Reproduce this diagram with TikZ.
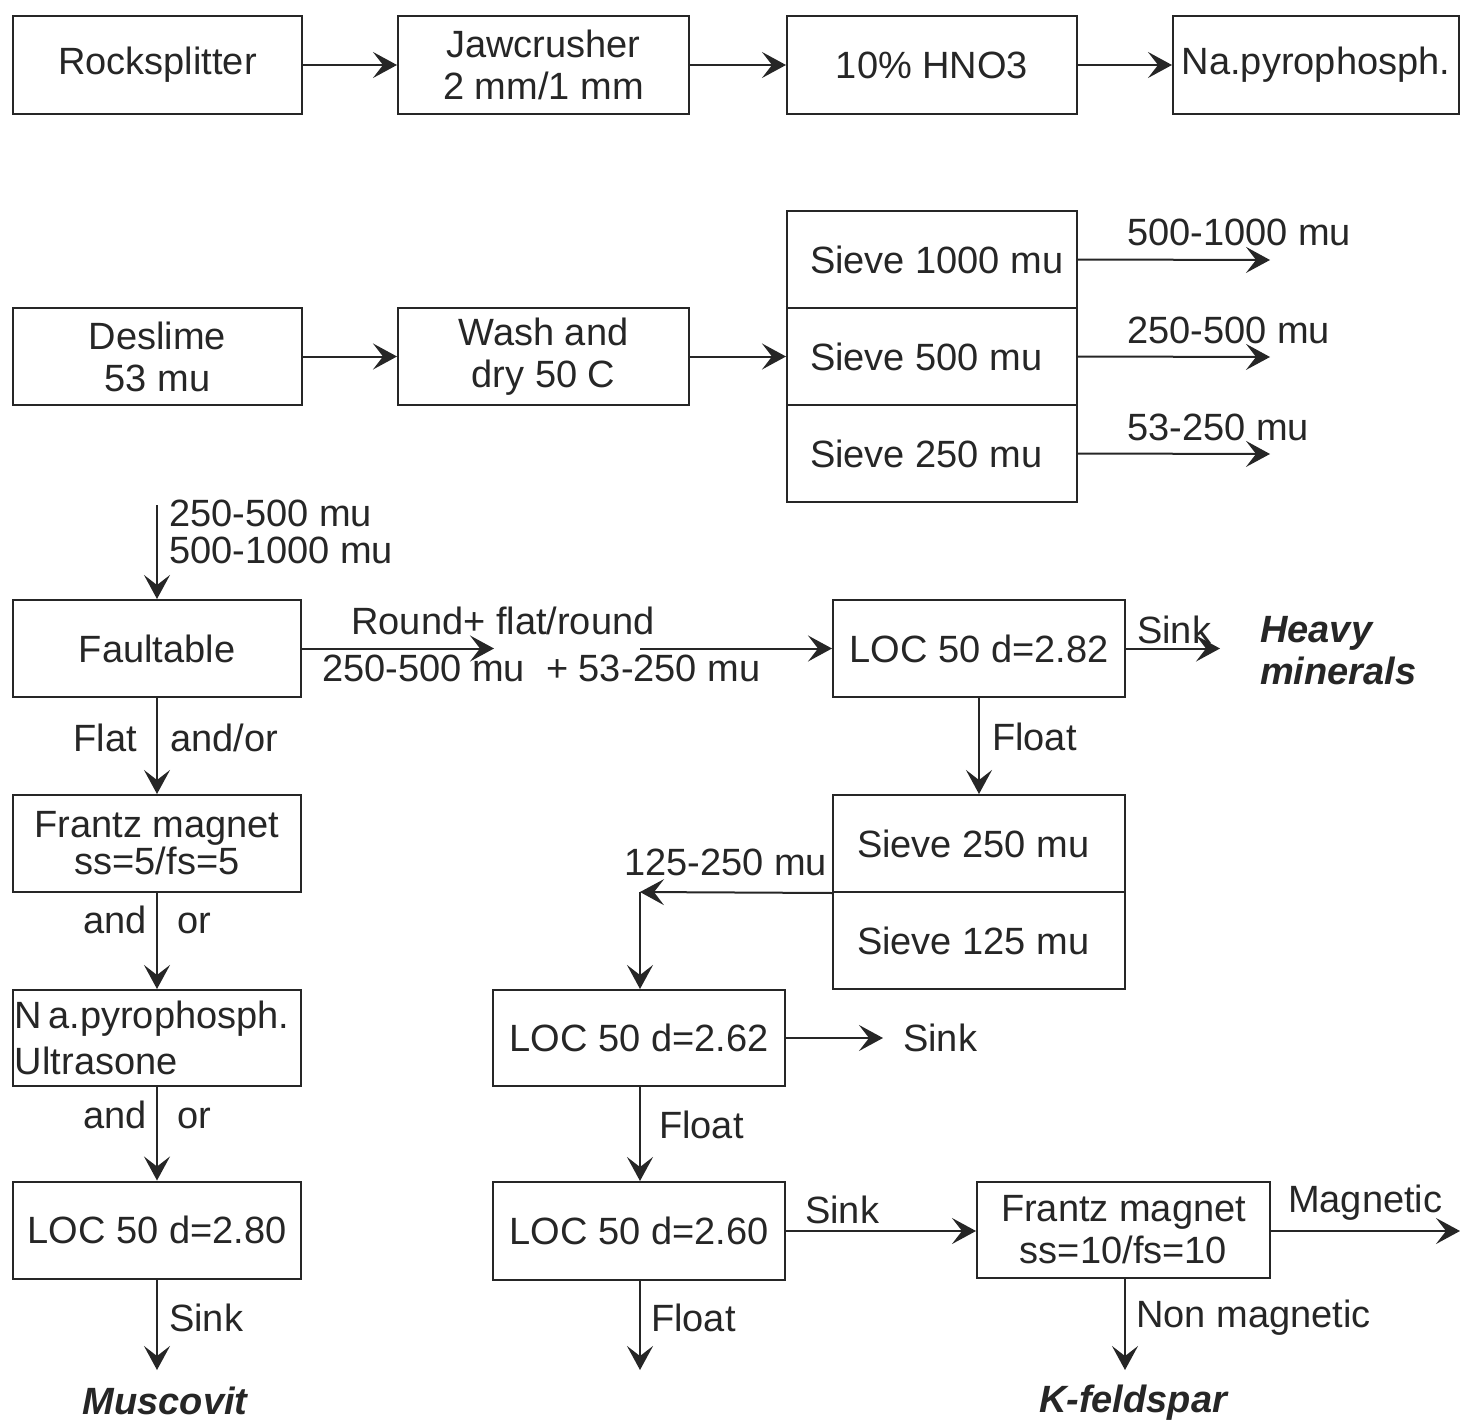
\documentclass[tikz,border=0pt]{standalone}
\usepackage{fontspec}
\setmainfont{Liberation Sans}
\usetikzlibrary{arrows.meta,calc}

\begin{document}
\begin{tikzpicture}[x=1pt,y=-1pt,
  every node/.style={font=\fontsize{38}{42}\selectfont, text=black!85},
  box/.style={draw=black!85, line width=2pt, minimum width=289pt, minimum height=97pt,
    inner sep=0pt, align=center},
  sievebox/.style={box, minimum width=290pt},
  lbl/.style={inner sep=0pt},
  result/.style={inner sep=0pt, font=\fontsize{38}{42}\selectfont\bfseries\itshape, align=left},
  flow/.style={-{Stealth[length=24pt,width=26pt,inset=10pt]}, line width=2pt, draw=black!85}]

\useasboundingbox (0,0) rectangle (1460,1421);

% ---- first row: preparation ----
\node[box] (rock) at (157.5,65) {Rocksplitter};
\node[box, minimum width=291pt] (jaw) at (543.5,65) {Jawcrusher\\2 mm/1 mm};
\node[box, minimum width=290pt] (hno) at (932,65) {10\% HNO3};
\node[box, minimum width=286pt] (napy) at (1316,65) {Na.pyrophosph.};
\draw[flow] (rock) -- (jaw);
\draw[flow] (jaw) -- (hno);
\draw[flow] (hno) -- (napy);

% ---- second row: desliming and sieving ----
\node[box] (desl) at (157.5,356.5) {Deslime\\53 mu};
\node[box, minimum width=291pt] (wash) at (543.5,356.5) {Wash and\\dry 50 C};
\node[sievebox] (s1000) at (932,259.5) {\makebox[244pt][l]{Sieve 1000 mu}};
\node[sievebox] (s500) at (932,356.5) {\makebox[244pt][l]{Sieve 500 mu}};
\node[sievebox] (s250) at (932,453.5) {\makebox[244pt][l]{Sieve 250 mu}};
\draw[flow] (desl) -- (wash);
\draw[flow] (wash) -- (s500);

\coordinate (o1000) at (1270,260);
\coordinate (o500) at (1270,357);
\coordinate (o250) at (1270,454);
\draw[flow] (s1000.east) -- (o1000);
\draw[flow] (s500.east) -- (o500);
\draw[flow] (s250.east) -- (o250);
\node[lbl, anchor=west] (l1000) at (1127,232) {500-1000 mu};
\node[lbl, anchor=west] (l500) at (1127,330) {250-500 mu};
\node[lbl, anchor=west] (l250) at (1127,427) {53-250 mu};

% ---- fault table ----
\node[box, minimum width=288pt] (faul) at (157,648.5) {Faultable};
\coordinate (fin) at (157,505);
\draw[flow] (fin) -- (faul.north);
\node[lbl, anchor=west, align=left, font=\fontsize{38}{37}\selectfont] (lfin) at (169,532) {250-500 mu\\500-1000 mu};

\node[box, minimum width=292pt] (loc282) at (979,648.5) {LOC 50 d=2.82};
\coordinate (rmid) at (494,648.5);
\coordinate (rres) at (640,648.5);
\draw[flow] (faul.east) -- (rmid);
\draw[flow] (rres) -- (loc282.west);
\node[lbl] (lround) at (503,621) {Round+ flat/round};
\node[lbl, anchor=west] (lsizes) at (322,668) {250-500 mu \ + 53-250 mu};

\coordinate (heavy) at (1220,648.5);
\draw[flow] (loc282.east) -- (heavy);
\node[lbl, anchor=west] (lsink1) at (1137,630) {Sink};
\node[result, anchor=west] (heavyt) at (1260,651) {Heavy\\minerals};

% ---- second sieving ----
\node[sievebox, minimum width=292pt] (sv250) at (979,843.5) {\makebox[244pt][l]{Sieve 250 mu}};
\node[sievebox, minimum width=292pt] (sv125) at (979,940.5) {\makebox[244pt][l]{Sieve 125 mu}};
\draw[flow] (loc282) -- (sv250);
\node[lbl, anchor=west] (lfloat1) at (992,737) {Float};

\node[box, minimum width=292pt, minimum height=96pt] (loc262) at (639,1038) {LOC 50 d=2.62};
\coordinate (corner) at (640,892);
\draw[flow] (sv250.south west) -- (corner);
\draw[flow] (corner) -- (loc262.north -| corner);
\node[lbl, anchor=west] (l125) at (624,862) {125-250 mu};

\coordinate (sink262) at (883,1038);
\draw[flow] (loc262.east) -- (sink262);
\node[lbl, anchor=west] (lsink2) at (903,1038) {Sink};

\node[box, minimum width=292pt, minimum height=98pt] (loc260) at (639,1231) {LOC 50 d=2.60};
\draw[flow] (loc262.south -| corner) -- (loc260.north -| corner);
\node[lbl, anchor=west] (lfloat2) at (659,1125) {Float};

\node[box, minimum width=293pt, minimum height=96pt] (fr10) at (1123.5,1230) {Frantz magnet\\ss=10/fs=10};
\draw[flow] (loc260.east) -- (loc260.east -| fr10.west);
\node[lbl, anchor=west] (lsink3) at (805,1210) {Sink};

\coordinate (float260) at (640,1370);
\draw[flow] (loc260.south -| float260) -- (float260);
\node[lbl, anchor=west] (lfloat3) at (651,1318) {Float};

\coordinate (magn) at (1460,1231);
\draw[flow] (fr10.east |- magn) -- (magn);
\node[lbl, anchor=west] (lmag) at (1288,1203) {Magnetic};

\coordinate (nonmag) at (1125,1370);
\draw[flow] (fr10.south -| nonmag) -- (nonmag);
\node[lbl, anchor=west] (lnonmag) at (1136,1318) {Non magnetic};
\node[result, anchor=base] (kfs) at (1133,1412) {K-feldspar};

% ---- left column: flat fraction ----
\node[box, minimum width=288pt] (fr5) at (157,843.5) {Frantz magnet\\[-5pt]ss=5/fs=5};
\draw[flow] (faul) -- (fr5);
\node[lbl, anchor=east] (lflat) at (137,738) {Flat};
\node[lbl, anchor=west] (landor) at (170,738) {and/or};

\node[box, minimum width=288pt, minimum height=96pt, text width=284pt, align=left] (napy2) at (157,1038)
  {N\kern6pt a.pyrophosph.\\[4pt]Ultrasone};
\draw[flow] (fr5) -- (napy2);
\node[lbl, anchor=base east] (land1) at (147,933) {and};
\node[lbl, anchor=base west] (lor1) at (177,933) {or};

\node[box, minimum width=288pt] (loc280) at (157,1230) {LOC 50 d=2.80};
\draw[flow] (napy2) -- (loc280);
\node[lbl, anchor=base east] (land2) at (147,1128) {and};
\node[lbl, anchor=base west] (lor2) at (177,1128) {or};

\coordinate (musc) at (157,1370);
\draw[flow] (loc280) -- (musc);
\node[lbl, anchor=west] (lsink4) at (169,1318) {Sink};
\node[result, anchor=base] (muscovit) at (165,1414) {Muscovit};
\end{tikzpicture}
\end{document}
